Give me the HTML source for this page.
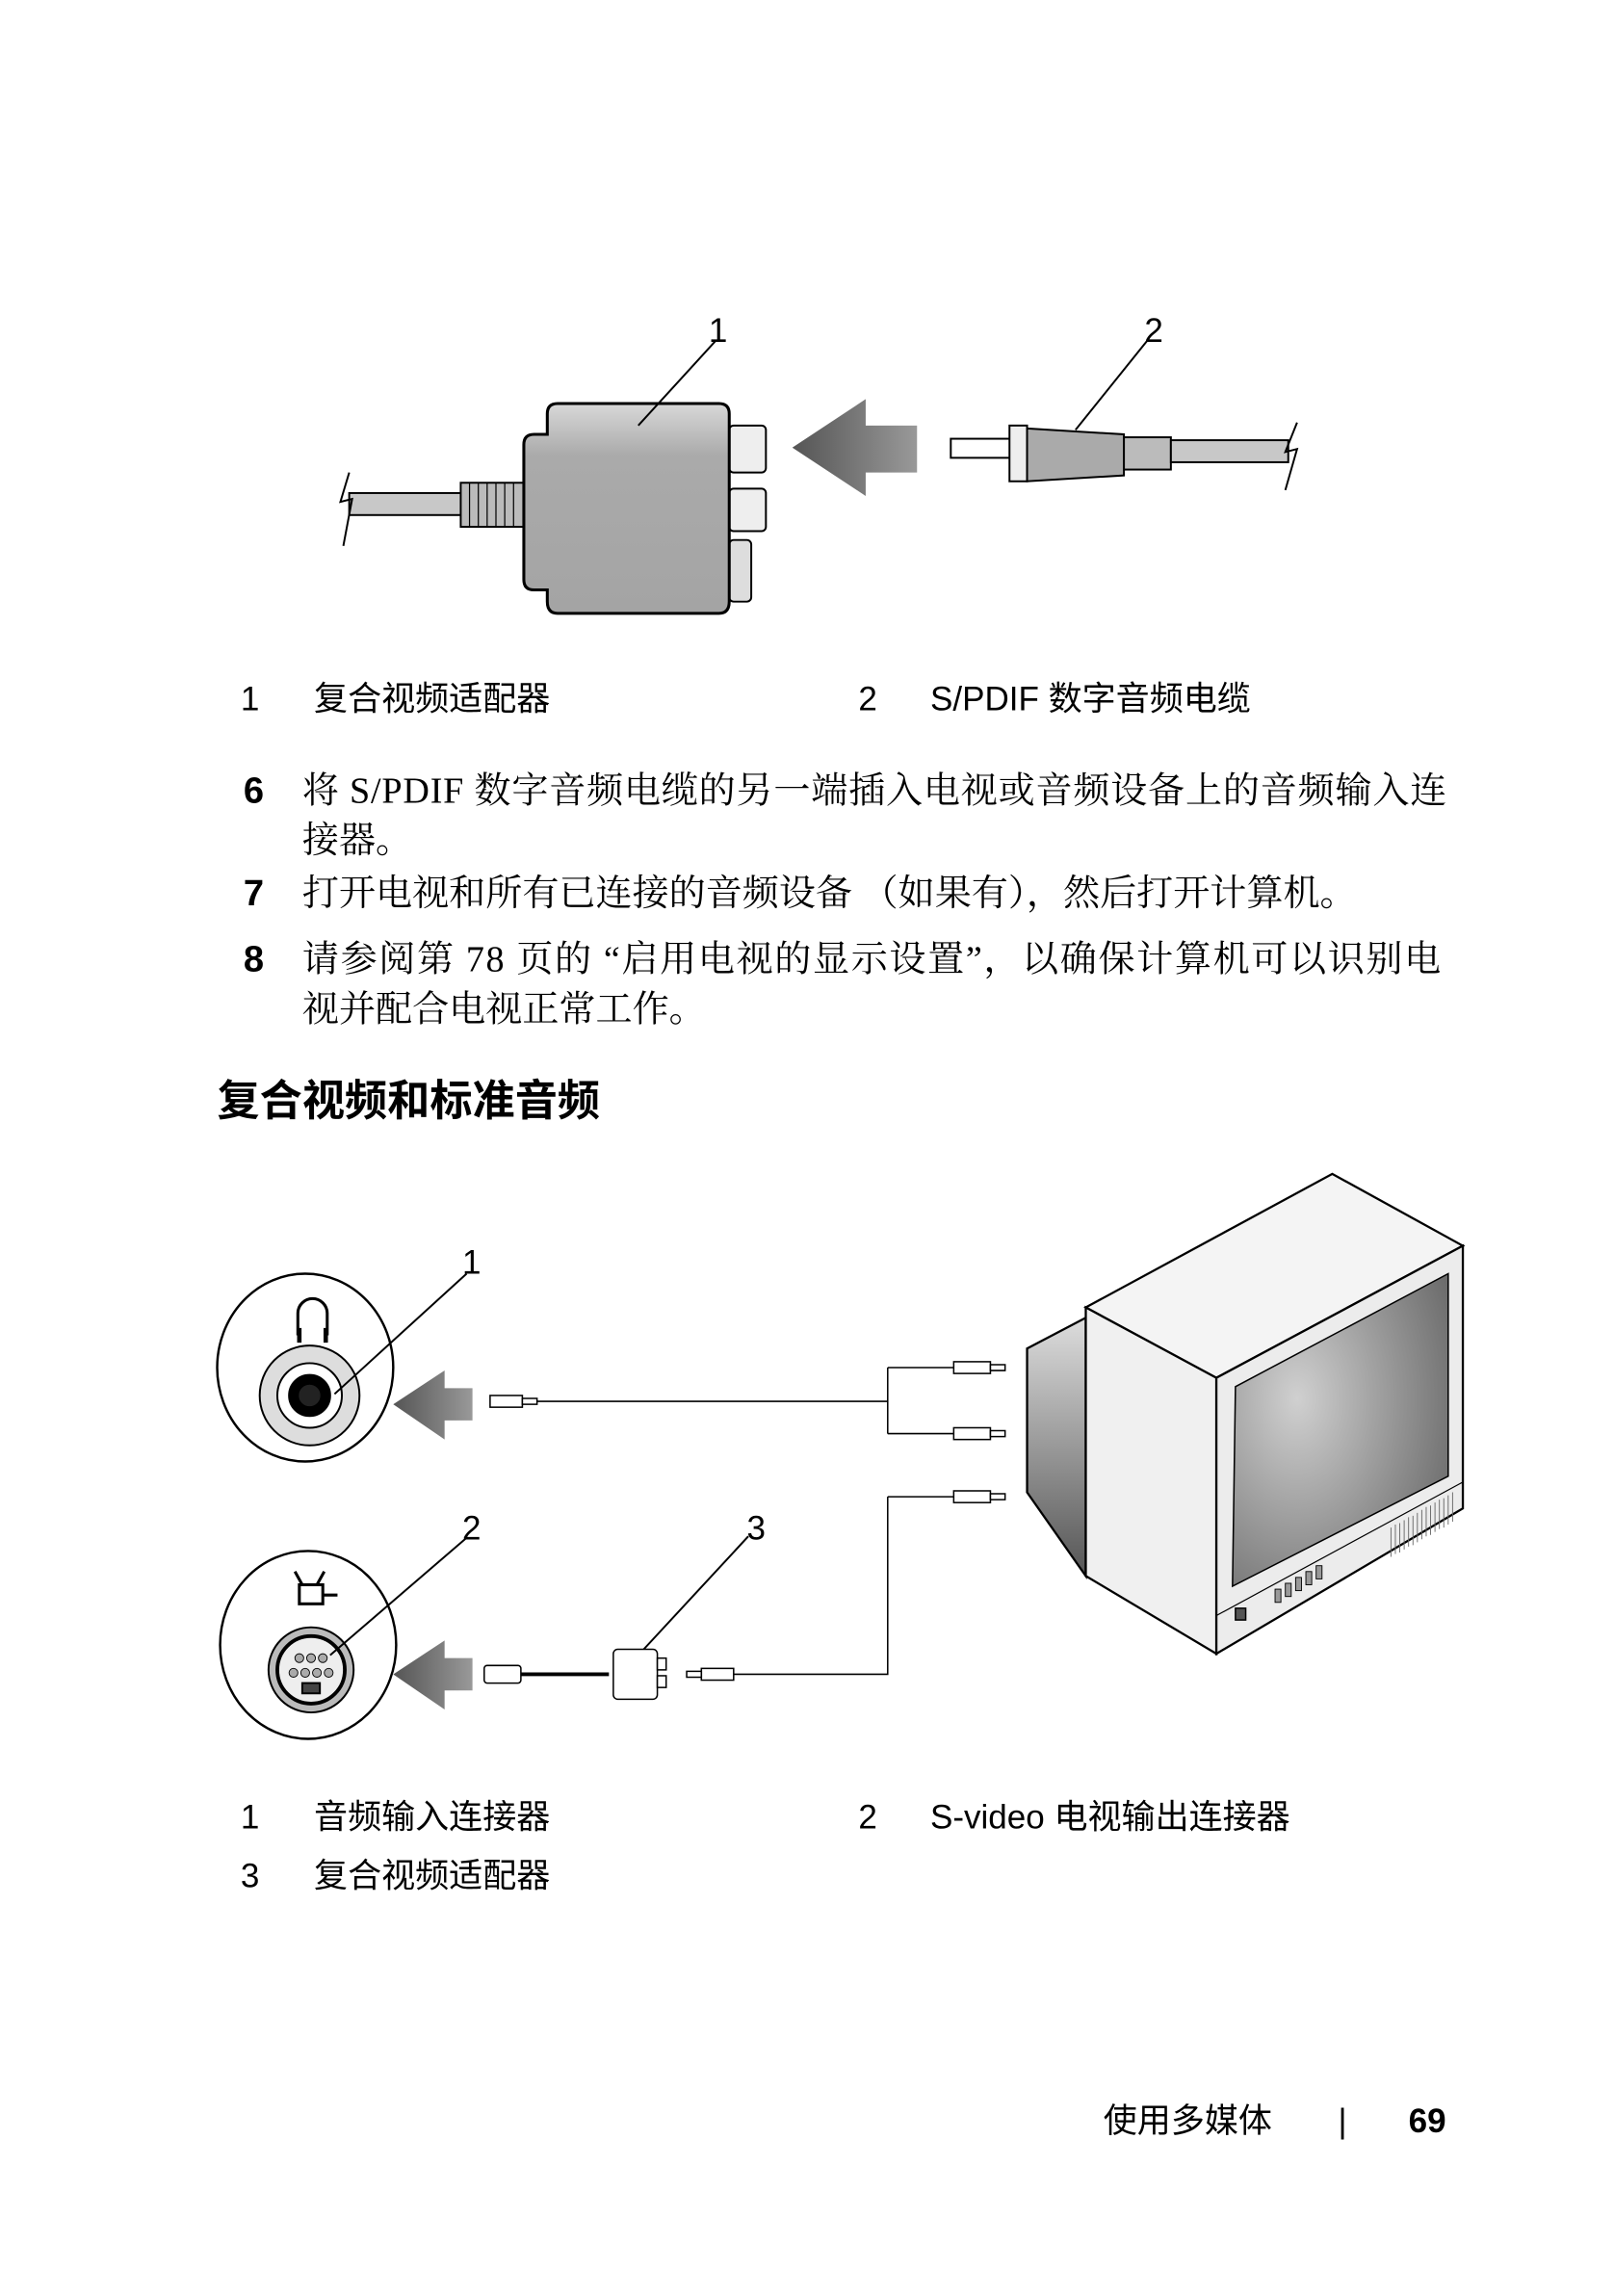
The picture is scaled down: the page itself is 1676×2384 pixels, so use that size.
<!DOCTYPE html>
<html><head><meta charset="utf-8"><style>
html,body{margin:0;padding:0;background:#fff;}
svg{display:block}
.s{font-family:"Liberation Sans","Noto Sans CJK SC",sans-serif;}
.r{font-family:"Liberation Serif","Noto Serif CJK SC",serif;}
</style></head><body>
<svg width="1676" height="2384" viewBox="0 0 1100 1564.7" xmlns="http://www.w3.org/2000/svg">
<defs>
<linearGradient id="ag" x1="0" y1="0" x2="1" y2="0"><stop offset="0" stop-color="#555"/><stop offset="1" stop-color="#999"/></linearGradient>
<linearGradient id="bg" x1="0" y1="0" x2="0" y2="1"><stop offset="0" stop-color="#d8d8d8"/><stop offset="0.25" stop-color="#aaa"/><stop offset="1" stop-color="#a4a4a4"/></linearGradient>
<radialGradient id="sg" cx="0.3" cy="0.4" r="0.8"><stop offset="0" stop-color="#d0d0d0"/><stop offset="1" stop-color="#6a6a6a"/></radialGradient>
<linearGradient id="tg" x1="0" y1="0" x2="0" y2="1"><stop offset="0" stop-color="#ddd"/><stop offset="1" stop-color="#555"/></linearGradient>
</defs>
<g stroke="#000" stroke-width="1.3">
<rect x="238" y="336" width="78" height="15" fill="#c8c8c8"/>
<path d="M238,322 L232,342 L240,340 L234,372" fill="none"/>
<rect x="314" y="329" width="44" height="30" fill="#bbb"/>
<g stroke-width="0.8"><path d="M320,329v30M326,329v30M332,329v30M338,329v30M344,329v30M350,329v30"/></g>
<rect x="497" y="290" width="25" height="32" rx="3" fill="#eee"/>
<rect x="497" y="333" width="25" height="29" rx="3" fill="#eee"/>
<rect x="497" y="368" width="15" height="42" rx="3" fill="#ddd"/>
<path d="M380,275 H490 Q497,275 497,282 V410 Q497,418 490,418 H380 Q373,418 373,410 V402 H364 Q357,402 357,395 V303 Q357,296 364,296 H373 V282 Q373,275 380,275 Z" fill="url(#bg)" stroke-width="2"/>
<polygon points="540,305 590,272 590,290 625,290 625,322 590,322 590,338" fill="url(#ag)" stroke="none"/>
<rect x="648" y="299" width="42" height="13" fill="#fff"/>
<rect x="688" y="290" width="12" height="38" fill="#eee"/>
<path d="M700,292 L766,296 L766,324 L700,328 Z" fill="#aaa"/>
<rect x="766" y="298" width="32" height="22" fill="#bbb"/>
<rect x="798" y="300" width="80" height="15" fill="#c8c8c8"/>
<path d="M884,288 L876,308 L884,306 L876,334" fill="none"/>
<path d="M488,232 L435,290 M782,232 L733,293" fill="none"/>
<ellipse cx="208" cy="932" rx="60" ry="64" fill="#fff" stroke-width="1.6"/>
<path d="M203,910 v-15 a9,9 0 0 1 20,0 v15" fill="none" stroke-width="2"/>
<path d="M204,905v10M222,905v10" stroke-width="3"/>
<circle cx="211" cy="951" r="34" fill="#ddd"/>
<circle cx="211" cy="951" r="22" fill="#fff"/>
<circle cx="211" cy="951" r="14" fill="#000"/>
<circle cx="211" cy="951" r="8" fill="#222"/>
<ellipse cx="210" cy="1121" rx="60" ry="64" fill="#fff" stroke-width="1.6"/>
<rect x="204" y="1080" width="16" height="13" fill="none" stroke-width="2"/>
<path d="M206,1080 l-5,-9 M216,1080 l5,-9 M220,1087 h10" stroke-width="2" fill="none"/>
<circle cx="212" cy="1138" r="29" fill="#bbb"/>
<circle cx="212" cy="1138" r="23" fill="#eee" stroke-width="2.5"/>
<g fill="#aaa" stroke-width="0.6"><circle cx="204" cy="1130" r="3"/><circle cx="212" cy="1130" r="3"/><circle cx="220" cy="1130" r="3"/><circle cx="200" cy="1140" r="3"/><circle cx="208" cy="1140" r="3"/><circle cx="216" cy="1140" r="3"/><circle cx="224" cy="1140" r="3"/></g>
<rect x="206" y="1147" width="12" height="7" fill="#444"/>
<path d="M318,868 L228,950 M318,1048 L225,1128 M510,1047 L435,1128" fill="none"/>
</g>
<polygon points="268,957 303,934 303,946 322,946 322,968 303,968 303,981" fill="url(#ag)"/>
<polygon points="268,1141 303,1118 303,1130 322,1130 322,1152 303,1152 303,1165" fill="url(#ag)"/>
<g stroke="#000" stroke-width="1" fill="none">
<path d="M365,955 H605 M605,932 V977 M605,932 H650 M605,977 H650 M605,1020 H650 M605,1020 V1141 H500"/>
<path d="M355,1141 H415" stroke-width="2.5"/>
<g fill="#fff">
<rect x="334" y="951" width="22" height="8"/><path d="M356,953h10v4h-10z"/>
<rect x="650" y="928" width="25" height="8"/><path d="M675,930h10v4h-10z"/>
<rect x="650" y="973" width="25" height="8"/><path d="M675,975h10v4h-10z"/>
<rect x="650" y="1016" width="25" height="8"/><path d="M675,1018h10v4h-10z"/>
<rect x="478" y="1137" width="22" height="8"/><path d="M468,1139h10v4h-10z"/>
<rect x="330" y="1135" width="25" height="12" rx="2"/>
<rect x="418" y="1124" width="30" height="34" rx="3"/>
<rect x="448" y="1130" width="6" height="8"/><rect x="448" y="1142" width="6" height="8"/>
</g>
<path d="M740,898 L700,919 V1017 L740,1074 Z" fill="url(#tg)" stroke-width="1.5"/>
<path d="M740,891 L908,800 L997,849 L829,939 Z" fill="#f4f4f4" stroke-width="1.5"/>
<path d="M740,891 L829,939 V1127 L740,1074 Z" fill="#f0f0f0" stroke-width="1.5"/>
<path d="M829,939 L997,849 V1028 L829,1127 Z" fill="#ececec" stroke-width="1.5"/>
<path d="M842,945 L987,868 V1006 L840,1081 Z" fill="url(#sg)" stroke-width="1"/>
<path d="M829,1101 L997,1010" stroke-width="0.8"/>
<rect x="842" y="1096" width="7" height="8" fill="#555"/>
<g fill="#999" stroke-width="0.6"><rect x="869" y="1083" width="4" height="9"/><rect x="876" y="1079" width="4" height="9"/><rect x="883" y="1075" width="4" height="9"/><rect x="890" y="1071" width="4" height="9"/><rect x="897" y="1067" width="4" height="9"/></g>
<g stroke="#666" stroke-width="0.6">
<path d="M948,1041v20M951,1039v20M954,1038v20M957,1036v20M960,1034v20M963,1033v20M966,1031v20M969,1029v20M972,1027v20M975,1026v20M978,1024v20M981,1022v20M984,1021v20M987,1019v20M990,1017v20"/>
</g>
</g>
<g class="s" font-size="23" fill="#000">
<text x="483" y="233">1</text><text x="780" y="233">2</text>
<text x="315" y="868">1</text><text x="315" y="1049">2</text><text x="509" y="1049">3</text>
<text x="164" y="484">1</text><text x="214" y="484">复合视频适配器</text>
<text x="585" y="484">2</text><text x="634" y="484">S/PDIF 数字音频电缆</text>
<text x="164" y="1246">1</text><text x="214" y="1246">音频输入连接器</text>
<text x="585" y="1246">2</text><text x="634" y="1246">S-video 电视输出连接器</text>
<text x="164" y="1286">3</text><text x="214" y="1286">复合视频适配器</text>
<text x="752" y="1453">使用多媒体</text><text x="912" y="1453">|</text><text x="960" y="1453" font-weight="bold">69</text>
</g>
<g class="s" font-size="25" font-weight="bold"><text x="166" y="547">6</text><text x="166" y="617">7</text><text x="166" y="662">8</text></g>
<g class="r" font-size="25" fill="#000">
<text x="206" y="547" textLength="780">将 S/PDIF 数字音频电缆的另一端插入电视或音频设备上的音频输入连</text>
<text x="206" y="581">接器。</text>
<text x="206" y="617">打开电视和所有已连接的音频设备 （如果有），然后打开计算机。</text>
<text x="206" y="662" textLength="776">请参阅第 78 页的 “启用电视的显示设置”，以确保计算机可以识别电</text>
<text x="206" y="696">视并配合电视正常工作。</text>
</g>
<text class="s" x="148" y="760" font-size="29" font-weight="bold">复合视频和标准音频</text>
</svg>
</body></html>
